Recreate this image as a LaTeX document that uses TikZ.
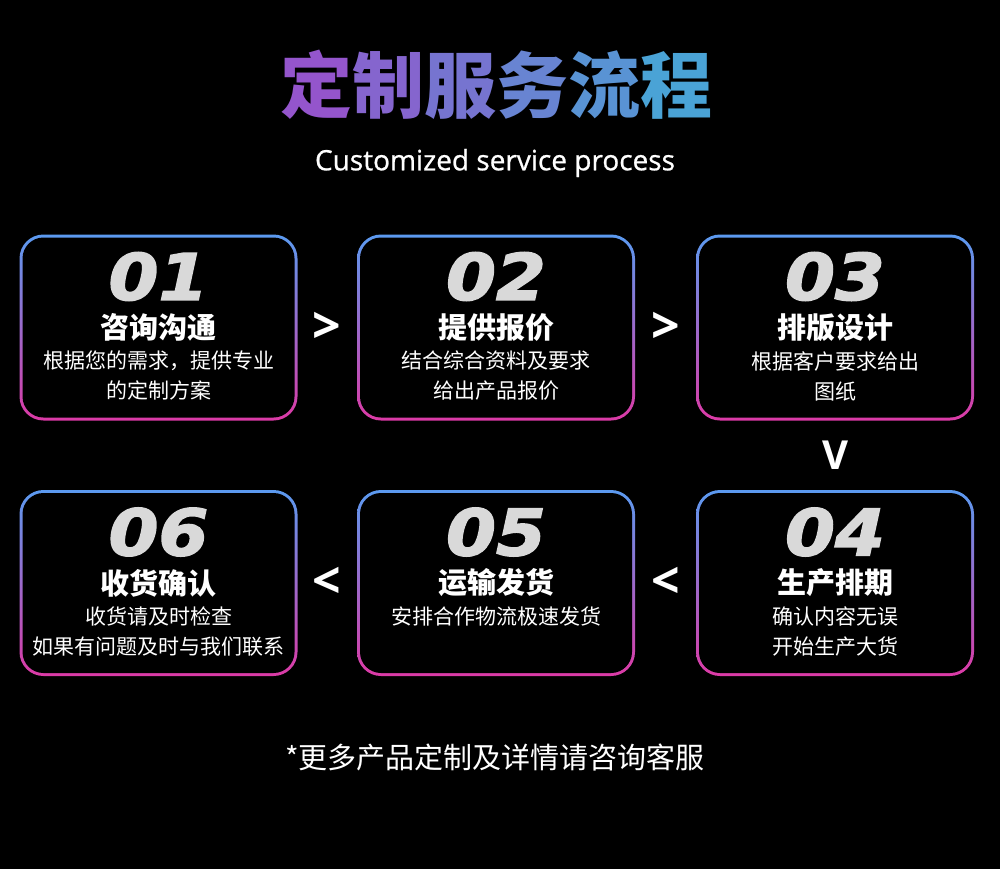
\documentclass[tikz,border=0pt]{standalone}
\usepackage{fontspec}
\setmainfont{Open Sans}
\newfontfamily\cjk{Noto Sans CJK SC}
\newfontfamily\subfont[FakeBold=0.8]{Open Sans}
\newfontfamily\numfont[FakeStretch=1.12, FakeBold=2.5]{DejaVu Sans}
\usetikzlibrary{calc}

\definecolor{cardtop}{RGB}{91,154,240}
\definecolor{cardbot}{RGB}{220,58,166}
\definecolor{titleleft}{RGB}{148,85,204}
\definecolor{titleright}{RGB}{74,163,214}
\definecolor{numgray}{RGB}{217,217,217}

\begin{document}
\begin{tikzpicture}[x=1pt, y=-1pt,
            card/.style={
                minimum width=278pt, minimum height=186pt, inner sep=0pt,
                rounded corners=24pt, top color=cardtop, bottom color=cardbot,
                path picture={\fill[black, rounded corners=21pt]
                    ([shift={(3pt,3pt)}] path picture bounding box.south west) rectangle
                    ([shift={(-3pt,-3pt)}] path picture bounding box.north east);}
            },
            stepnum/.style={inner sep=0pt, text=numgray, font=\numfont\bfseries\itshape\fontsize{64}{64}\selectfont},
            steptitle/.style={inner sep=0pt, text=white, font=\cjk\bfseries\fontsize{29}{34}\selectfont},
            stepdesc/.style={inner sep=0pt, anchor=north, align=center, text=white, font=\cjk\fontsize{21}{30}\selectfont},
            chevron/.style={inner sep=0pt, text=white, font=\bfseries\fontsize{50}{50}\selectfont}
            ]
            \fill[black] (0, 0) rectangle (1000, 869);
            \useasboundingbox (0, 0) rectangle (1000, 869);

            \colorlet{tA}{titleleft}
            \colorlet{tB}{titleright!20!titleleft}
            \colorlet{tC}{titleright!40!titleleft}
            \colorlet{tD}{titleright!60!titleleft}
            \colorlet{tE}{titleright!80!titleleft}
            \colorlet{tF}{titleright}

            \coordinate (C1) at (158.5, 327.5);
            \coordinate (C2) at (496, 327.5);
            \coordinate (C3) at (835, 327.5);
            \coordinate (C4) at (835, 583);
            \coordinate (C5) at (496, 583);
            \coordinate (C6) at (158.5, 583);

            % heading
            \node[inner sep=0pt, font=\cjk\bfseries\fontsize{72}{72}\selectfont] (title) at (496, 85)
                {\textcolor{tA}{定}\textcolor{tB}{制}\textcolor{tC}{服}\textcolor{tD}{务}\textcolor{tE}{流}\textcolor{tF}{程}};
            \node[inner sep=0pt, text=white, font=\subfont\fontsize{28}{28}\selectfont] (subtitle) at (495, 163) {Customized service process};

            % cards
            \node[card] (card1) at (C1) {};
            \node[card] (card2) at (C2) {};
            \node[card] (card3) at (C3) {};
            \node[card] (card4) at (C4) {};
            \node[card] (card5) at (C5) {};
            \node[card] (card6) at (C6) {};

            \node[stepnum] (num1) at ([yshift=51pt] C1) {01};
            \node[stepnum] (num2) at ([yshift=51pt] C2) {02};
            \node[stepnum] (num3) at ([yshift=51pt] C3) {03};
            \node[stepnum] (num4) at ([yshift=51pt] C4) {04};
            \node[stepnum] (num5) at ([yshift=51pt] C5) {05};
            \node[stepnum] (num6) at ([yshift=51pt] C6) {06};

            \node[steptitle] (head1) at (C1) {咨询沟通};
            \node[steptitle] (head2) at (C2) {提供报价};
            \node[steptitle] (head3) at (C3) {排版设计};
            \node[steptitle] (head4) at (C4) {生产排期};
            \node[steptitle] (head5) at (C5) {运输发货};
            \node[steptitle] (head6) at (C6) {收货确认};

            \node[stepdesc] (desc1) at ([yshift=-23.5pt] C1) {根据您的需求，提供专业\\的定制方案};
            \node[stepdesc] (desc2) at ([yshift=-23.5pt] C2) {结合综合资料及要求\\给出产品报价};
            \node[stepdesc] (desc3) at ([yshift=-23.5pt] C3) {根据客户要求给出\\图纸};
            \node[stepdesc] (desc4) at ([yshift=-23.5pt] C4) {确认内容无误\\开始生产大货};
            \node[stepdesc] (desc5) at ([yshift=-23.5pt] C5) {安排合作物流极速发货};
            \node[stepdesc] (desc6) at ([yshift=-23.5pt] C6) {收货请及时检查\\如果有问题及时与我们联系};

            % direction marks between cards
            \node[chevron] (next12) at ($(card1.east)!0.5!(card2.west)$) {>};
            \node[chevron] (next23) at ($(card2.east)!0.5!(card3.west)$) {>};
            \node[chevron, font=\bfseries\fontsize{40}{40}\selectfont] (next34) at ($(card3.south)!0.5!(card4.north)$) {V};
            \node[chevron] (next45) at ($(card5.east)!0.5!(card4.west)$) {<};
            \node[chevron] (next56) at ($(card6.east)!0.5!(card5.west)$) {<};

            \node[inner sep=0pt, text=white, font=\cjk\fontsize{29}{29}\selectfont] (footer) at (495, 757) {*更多产品定制及详情请咨询客服};
        \end{tikzpicture}
\end{document}
